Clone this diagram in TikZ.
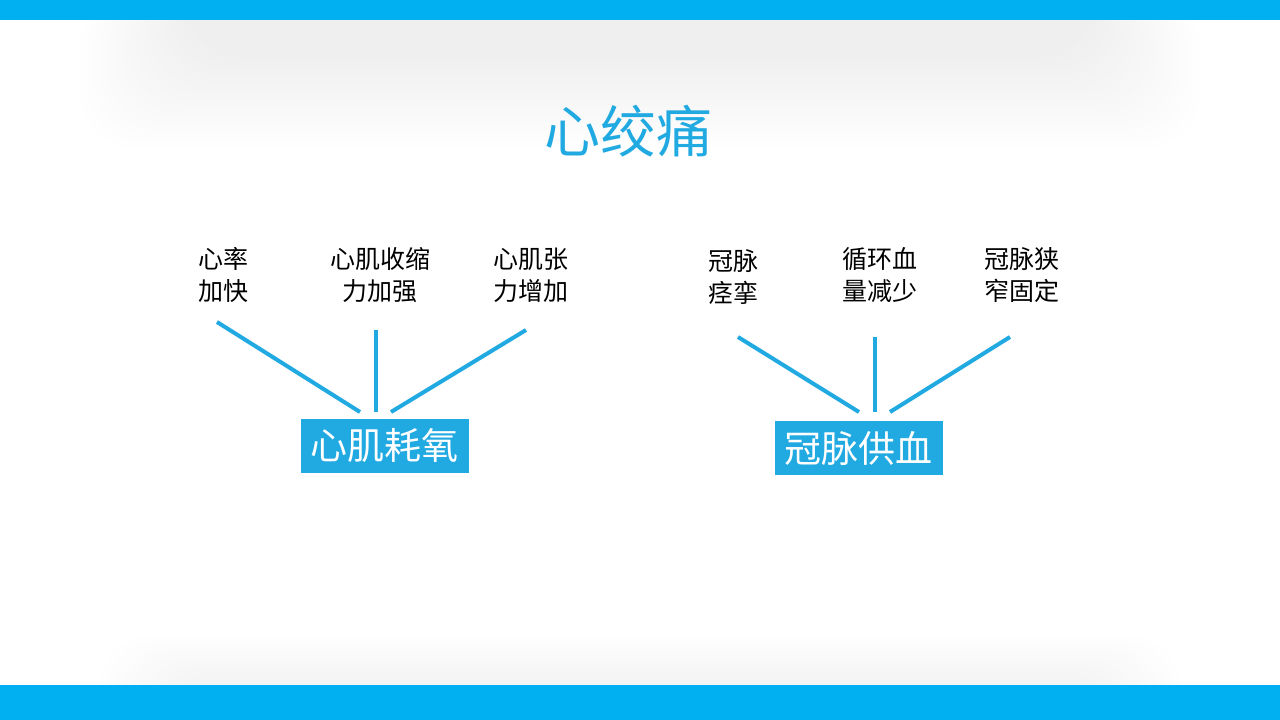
\documentclass[tikz,border=0pt]{standalone}
\usepackage{fontspec}
\setmainfont{Noto Sans CJK SC}
\usetikzlibrary{positioning}
\definecolor{barblue}{HTML}{00B0F0}
\definecolor{linkblue}{HTML}{21A9E1}
\tikzset{
  cause/.style={align=center, inner sep=0pt, font=\fontsize{25}{32}\selectfont},
  factor/.style={fill=linkblue, text=white, inner sep=0pt, minimum width=168pt,
    minimum height=54pt, font=\fontsize{37}{40}\selectfont},
  link/.style={linkblue, line width=4pt}
}
\begin{document}
\begin{tikzpicture}[x=1pt,y=-1pt]
    \useasboundingbox (0,0) rectangle (1280,720);
    \fill[white] (0,0) rectangle (1280,720);

    % soft shadows under the bars
    \foreach \k in {0,...,15}
        \fill[black,opacity=0.005,rounded corners=55] (80+\k*7,-10) rectangle (1200-\k*7,148-\k*6);
    \foreach \k in {0,...,9}
        \fill[black,opacity=0.004,rounded corners=50] (100+\k*7,636+\k*4) rectangle (1180-\k*7,740);

    \fill[barblue] (0,0) rectangle (1280,20);
    \fill[barblue] (0,685) rectangle (1280,720);

    \node[text=linkblue,font=\fontsize{56}{60}\selectfont] (title) at (628,131) {心绞痛};

    \node[factor] (oxygen) at (384.5,446) {心肌耗氧};
    \node[factor] (supply) at (858.5,448) {冠脉供血};

    \node[cause] (rate) at (223,275) {心率\\加快};
    \node[cause] (contract) at (380,275) {心肌收缩\\力加强};
    \node[cause] (tension) at (531,275) {心肌张\\力增加};
    \node[cause] (spasm) at (733,277) {冠脉\\痉挛};
    \node[cause] (volume) at (880,275) {循环血\\量减少};
    \node[cause] (stenosis) at (1022,275) {冠脉狭\\窄固定};

    \coordinate (rate-end) at (217,322);
    \coordinate (contract-end) at (376,330);
    \coordinate (tension-end) at (526,330);
    \coordinate (oxygen-a) at (360,412);
    \coordinate (oxygen-b) at (376,412);
    \coordinate (oxygen-c) at (391,412);
    \coordinate (spasm-end) at (738,337);
    \coordinate (volume-end) at (875,337);
    \coordinate (stenosis-end) at (1010,337);
    \coordinate (supply-a) at (859,412);
    \coordinate (supply-b) at (875,412);
    \coordinate (supply-c) at (890,412);

    \draw[link] (rate-end) -- (oxygen-a);
    \draw[link] (contract-end) -- (oxygen-b);
    \draw[link] (tension-end) -- (oxygen-c);
    \draw[link] (spasm-end) -- (supply-a);
    \draw[link] (volume-end) -- (supply-b);
    \draw[link] (stenosis-end) -- (supply-c);
\end{tikzpicture}
\end{document}
